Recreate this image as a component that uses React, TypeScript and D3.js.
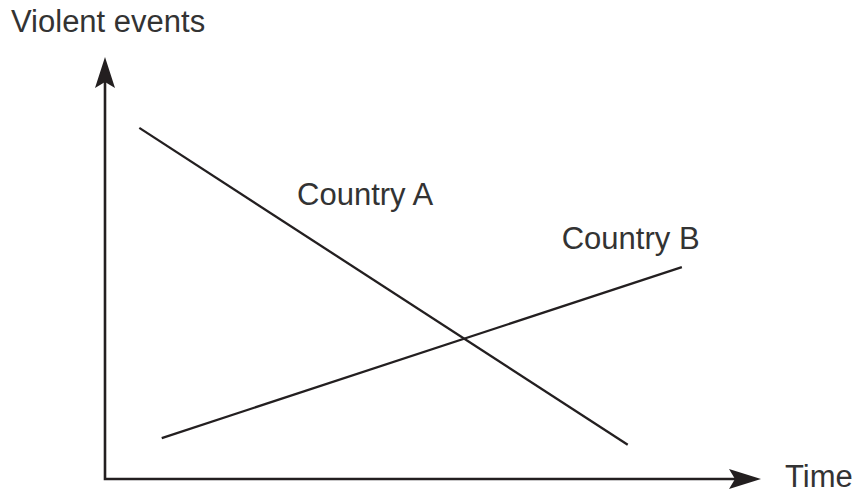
import * as d3 from "d3";
import { useEffect, useRef } from "react";

// schematic chart: no real units, values on a 0–100 scale
const seriesNames = ["Country A", "Country B"];
const seriesStart = [
  [5.2, 83.2],
  [8.6, 9.7],
];
const seriesEnd = [
  [79.2, 8.1],
  [87.4, 50.2],
];
const labelPos = [
  [29.1, 64.9],
  [69.2, 54.5],
];
const yTitle = "Violent events";
const xTitle = "Time";

function App() {
  const ref = useRef<SVGSVGElement>(null);

  useEffect(() => {
    const svg = d3.select(ref.current);
    svg.selectAll("*").remove();

    const width = 860;
    const height = 496;
    const ink = "#231f20";
    const textInk = "#333333";
    const font = "'Liberation Sans', Arial, Helvetica, sans-serif";

    svg.attr("width", width).attr("height", height);

    const x = d3.scaleLinear().domain([0, 100]).range([105, 765]);
    const y = d3.scaleLinear().domain([0, 100]).range([479, 57]);

    const x0 = x(0);
    const y0 = y(0);
    const yTip = y(100);
    const xTip = 761;

    // axes
    svg
      .append("path")
      .attr("d", `M${x0},${yTip + 20}L${x0},${y0}L${xTip - 20},${y0}`)
      .attr("fill", "none")
      .attr("stroke", ink)
      .attr("stroke-width", 2.6)
      .attr("stroke-linejoin", "miter");

    // arrow heads
    svg
      .append("path")
      .attr(
        "d",
        `M${x0},${yTip}L${x0 + 10},${yTip + 31}L${x0},${yTip + 25}L${x0 - 10},${yTip + 31}Z`
      )
      .attr("fill", ink);

    svg
      .append("path")
      .attr(
        "d",
        `M${xTip},${y0}L${xTip - 32},${y0 - 10}L${xTip - 26},${y0}L${xTip - 32},${y0 + 10}Z`
      )
      .attr("fill", ink);

    // series lines
    const line = d3
      .line<number[]>()
      .x(d => x(d[0]))
      .y(d => y(d[1]));

    svg
      .selectAll(".series")
      .data(seriesNames.map((n, i) => [seriesStart[i], seriesEnd[i]]))
      .enter()
      .append("path")
      .attr("class", "series")
      .attr("d", d => line(d))
      .attr("fill", "none")
      .attr("stroke", ink)
      .attr("stroke-width", 2.3);

    // series labels
    svg
      .selectAll(".series-label")
      .data(seriesNames)
      .enter()
      .append("text")
      .attr("class", "series-label")
      .attr("x", (d, i) => x(labelPos[i][0]))
      .attr("y", (d, i) => y(labelPos[i][1]))
      .attr("fill", textInk)
      .style("font-family", font)
      .style("font-size", "31px")
      .text(d => d);

    // axis titles
    svg
      .append("text")
      .attr("x", 11)
      .attr("y", 32)
      .attr("fill", textInk)
      .style("font-family", font)
      .style("font-size", "31px")
      .text(yTitle);

    svg
      .append("text")
      .attr("x", 785)
      .attr("y", 487)
      .attr("fill", textInk)
      .style("font-family", font)
      .style("font-size", "31px")
      .text(xTitle);
  }, []);

  return (
    <div style={{ position: "absolute", left: 0, top: 0, background: "#fff" }}>
      <svg ref={ref} style={{ display: "block" }} />
    </div>
  );
}

export default App;
